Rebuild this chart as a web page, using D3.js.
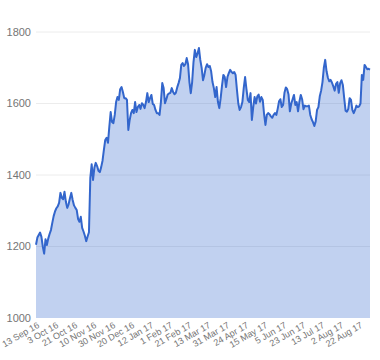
<!DOCTYPE html>
<html><head><meta charset="utf-8">
<script src="https://cdn.jsdelivr.net/npm/d3@7"></script>
<style>
html,body{margin:0;padding:0;background:#fff;}
svg{display:block;font-family:Arial,"Liberation Sans",sans-serif;}
</style></head>
<body><svg id="c" width="380" height="360"></svg>
<script>
// closing values, one per trading day, 13 Sep 2016 onward
const values = [
1205,1225,1232,1239,1227,1200,1180,1220,1204,1222,
1235,1246,1266,1285,1298,1307,1312,1322,1350,1336,
1332,1353,1325,1308,1318,1335,1350,1330,1315,1308,
1302,1277,1269,1283,1252,1242,1230,1215,1228,1240,
1392,1430,1386,1420,1434,1425,1412,1408,1422,1440,
1470,1498,1504,1490,1535,1576,1548,1545,1568,1604,
1618,1610,1640,1646,1632,1615,1615,1610,1526,1554,
1573,1582,1573,1604,1576,1590,1596,1585,1601,1596,
1587,1604,1629,1604,1615,1624,1599,1596,1582,1573,
1573,1568,1604,1657,1643,1601,1612,1625,1628,1630,
1643,1632,1626,1630,1645,1657,1671,1708,1713,1705,
1710,1727,1710,1660,1629,1660,1716,1750,1730,1740,
1755,1722,1700,1665,1680,1700,1710,1702,1705,1690,
1660,1643,1618,1646,1604,1587,1615,1650,1680,1674,
1646,1674,1685,1694,1688,1685,1688,1680,1638,1600,
1582,1590,1604,1643,1674,1640,1610,1604,1629,1554,
1590,1618,1600,1620,1625,1605,1618,1610,1570,1540,
1568,1573,1570,1564,1560,1568,1573,1568,1585,1606,
1612,1590,1596,1630,1645,1640,1625,1578,1600,1612,
1624,1596,1604,1578,1605,1624,1612,1584,1594,1592,
1592,1594,1568,1556,1548,1537,1550,1582,1590,1620,
1636,1660,1700,1722,1690,1672,1662,1666,1658,1648,
1636,1655,1660,1630,1657,1665,1652,1615,1580,1577,
1585,1615,1610,1582,1573,1582,1594,1590,1592,1600,
1680,1666,1708,1702,1696,1697,1695
];
// x-axis labels, one every 14 trading days
const tickLabels = ["13 Sep 16","3 Oct 16","21 Oct 16","10 Nov 16","30 Nov 16","20 Dec 16","12 Jan 17","1 Feb 17","21 Feb 17","13 Mar 17","31 Mar 17","24 Apr 17","15 May 17","5 Jun 17","23 Jun 17","13 Jul 17","2 Aug 17","22 Aug 17"];
const tickStep = 14;
const yTicks = [1000,1200,1400,1600,1800];

const svg = d3.select("#c");
const mLeft = 36, mRight = 370, mTop = 32, mBottom = 318;

const x = d3.scaleLinear().domain([0, values.length - 1]).range([mLeft, mRight]);
const y = d3.scaleLinear().domain([1000, 1800]).range([mBottom, mTop]);

// gridlines
svg.append("g").selectAll("line").data(yTicks.filter(d => d > 1000)).join("line")
  .attr("x1", mLeft).attr("x2", mRight)
  .attr("y1", d => y(d)).attr("y2", d => y(d))
  .attr("stroke", "#ececec").attr("stroke-width", 1);

// y labels
svg.append("g").selectAll("text").data(yTicks).join("text")
  .attr("x", mLeft - 5).attr("y", d => y(d)).attr("dy", "0.35em")
  .attr("text-anchor", "end").attr("font-size", 11).attr("fill", "#757575")
  .text(d => d);

// area + line
const area = d3.area().x((d, i) => x(i)).y0(y(1000)).y1(d => y(d));
const line = d3.line().x((d, i) => x(i)).y(d => y(d));
svg.append("path").datum(values).attr("d", area).attr("fill", "#3366cc").attr("fill-opacity", 0.3);
svg.append("path").datum(values).attr("d", line).attr("fill", "none")
  .attr("stroke", "#3366cc").attr("stroke-width", 2).attr("stroke-linejoin", "round");

// x labels, slanted
svg.append("g").selectAll("text").data(tickLabels).join("text")
  .attr("transform", (d, i) => `translate(${x(i * tickStep) + 4},${mBottom + 9}) rotate(-30)`)
  .attr("text-anchor", "end").attr("font-size", 9).attr("fill", "#757575")
  .text(d => d);
</script></body></html>
